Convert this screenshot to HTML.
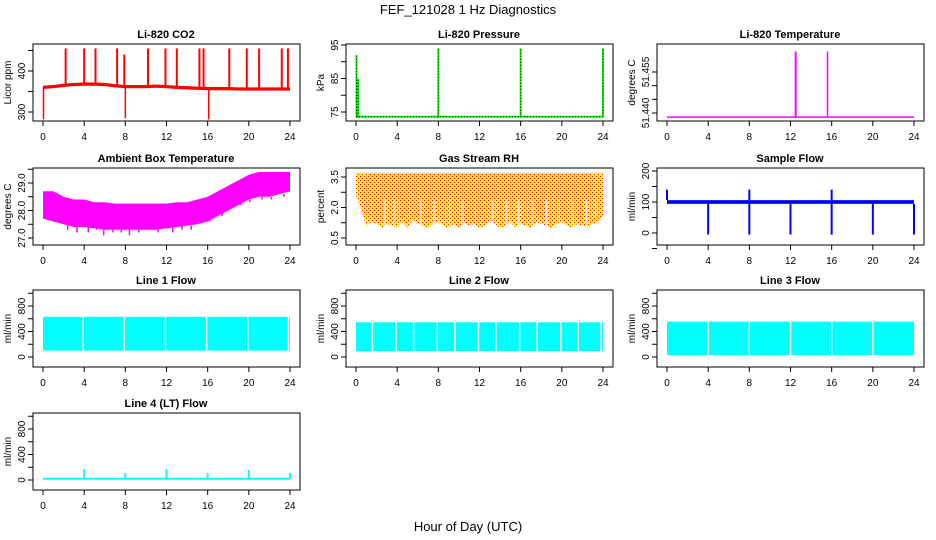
<!DOCTYPE html>
<html><head><meta charset="utf-8">
<style>
html,body{margin:0;padding:0;background:#fff;}
svg{display:block;font-family:"Liberation Sans",sans-serif;}
</style></head>
<body>
<svg id="chart" width="936" height="540" viewBox="0 0 936 540" xmlns="http://www.w3.org/2000/svg">
<defs>
<pattern id="rhdots" width="4" height="4" patternUnits="userSpaceOnUse">
<rect width="4" height="4" fill="#ffff00"/>
<rect x="0" y="0" width="1" height="1" fill="#ff0000"/>
<rect x="2" y="2" width="1" height="1" fill="#ff0000"/>
</pattern>
</defs>
<text x="468" y="14" font-size="13" text-anchor="middle">FEF_121028  1 Hz Diagnostics</text>
<text x="468" y="531" font-size="13" text-anchor="middle">Hour of Day (UTC)</text>
</svg>
<script>
// ---- data ----
const hourTicks = [0,4,8,12,16,20,24];
const hours = [0,1,2,3,4,5,6,7,8,9,10,11,12,13,14,15,16,17,18,19,20,21,22,23,24];

const co2Base = [360,362,365,367,368,368,367,364,362,362,362,363,362,360,359,358,357,357,357,356,356,356,356,356,356];
const co2SpikeHours = [2.2,4.0,5.1,7.2,7.9,10.2,11.9,13.0,15.2,15.6,18.1,19.8,21.0,23.2,23.8];
const co2SpikeValues = [455,455,455,455,440,455,455,455,455,455,455,455,455,455,455];
const co2DipHours = [0.05,8.0,16.1];
const co2DipValues = [282,285,282];

const presBase = 73.6;
const presSpikeHours = [0.05,0.2,8,16,24];
const presSpikeValues = [92,85,94,94,94];

const tempBase = 51.4385;
const tempSpikeHours = [12.5,15.6];
const tempSpikeValues = [51.4625,51.4625];

const ambHi = [28.7,28.7,28.5,28.4,28.4,28.3,28.3,28.25,28.25,28.25,28.25,28.25,28.25,28.3,28.3,28.4,28.5,28.7,28.9,29.1,29.3,29.4,29.4,29.4,29.4];
const ambLo = [27.7,27.6,27.5,27.4,27.4,27.35,27.3,27.3,27.3,27.3,27.3,27.3,27.35,27.4,27.45,27.5,27.6,27.8,28.0,28.2,28.4,28.5,28.5,28.6,28.7];
const ambDipHours = [0.6,1.5,2.4,3.3,4.4,5.2,5.9,6.8,7.6,8.4,9.3,10.1,11.2,12.6,13.5,14.4,15.3,16.2,17.4,18.3,19.2,20.1,21.3,22.2,23.4];
const ambDipValues = [27.6,27.5,27.3,27.2,27.2,27.3,27.1,27.2,27.2,27.1,27.2,27.3,27.2,27.2,27.3,27.3,27.5,27.7,27.9,28.0,28.3,28.3,28.4,28.4,28.5];

const rhTop = 3.7;
const rhLow = [2.6,1.9,1.1,1.3,1.2,1.0,1.2,1.1,1.0,1.3,1.0,1.4,1.2,1.1,1.0,1.2,1.3,1.1,1.0,1.2,1.0,1.3,1.1,1.2,1.0,1.1,1.4,1.2,1.0,1.1,1.3,1.0,1.2,1.1,1.0,1.3,1.2,1.1,1.0,1.2,1.3,1.1,1.0,1.2,1.1,1.0,1.2,1.3,1.6];
const rhGapHours = [1.5,2.8,3.7,5.2,6.3,7.6,9.1,10.4,11.6,13.3,14.6,15.8,17.2,18.5,19.6,21.1,22.4,23.3];

const flowBandLo = 94, flowBandHi = 106;
const flowDropHours = [4,8,12,16,20,24];
const flowSpikeHours = [0,8,16];
const flowSpikeValues = [140,140,140];

const line1Top = 630, line1Bottom = 100;
const line1Gaps = [3.9,7.9,11.9,15.9,19.9,23.85];
const line2Top = 545, line2Bottom = 90;
const line2Gaps = [1.6,3.9,5.6,7.9,9.6,11.9,13.6,15.9,17.6,19.9,21.6,23.8];
const line3Top = 555, line3Bottom = 30;
const line3Gaps = [4.0,8.0,12.0,16.0,20.0];
const line4Base = 20;
const line4SpikeHours = [4,8,12,16,20,24];
const line4SpikeValues = [170,110,170,110,160,110];

// ---- layout ----
const svg = document.getElementById('chart');
const NS = 'http://www.w3.org/2000/svg';
const colX0 = [43,356,667];
const rowTop = [44,168,290,413];
const boxH = 77;
function el(tag, attrs, name, parent){
  const e = document.createElementNS(NS, tag);
  for (const k in attrs) e.setAttribute(k, attrs[k]);
  
  
  (parent||svg).appendChild(e);
  return e;
}
function panel(col,row,title,ylab,v1,p1,v2,p2,ticks,labels,name){
  const x0 = colX0[col], top = rowTop[row], bot = top+boxH;
  const g = el('g',{},name);
  const xs = h => x0 + h*(247/24);
  const ys = v => p1 + (v-v1)*(p2-p1)/(v2-v1);
  el('rect',{x:x0-10,y:top,width:267,height:boxH,fill:'none',stroke:'#000','stroke-width':1},'plot-box',g);
  const t = el('text',{x:x0+123,y:top-6,'font-size':11,'font-weight':'bold','text-anchor':'middle'},'panel-title',g);
  t.textContent = title;
  hourTicks.forEach(h=>{
    el('line',{x1:xs(h),x2:xs(h),y1:bot,y2:bot+5,stroke:'#000'},'x-tick',g);
    const tl = el('text',{x:xs(h),y:bot+19,'font-size':10,'text-anchor':'middle'},'x-tick-label',g);
    tl.textContent = h;
  });
  ticks.forEach(v=>{
    el('line',{x1:x0-15,x2:x0-10,y1:ys(v),y2:ys(v),stroke:'#000'},'y-tick',g);
  });
  labels.forEach(v=>{
    const tl = el('text',{x:0,y:0,'font-size':10,'text-anchor':'middle',transform:`translate(${x0-18},${ys(+v)}) rotate(-90)`},'y-tick-label',g);
    tl.textContent = v;
  });
  const yl = el('text',{x:0,y:0,'font-size':10,'text-anchor':'middle',transform:`translate(${x0-32},${top+boxH/2}) rotate(-90)`},'y-axis-title',g);
  yl.textContent = ylab;
  return {g,xs,ys};
}
function vline(p,h,v1,v2,color,w,name,dash){
  const a = {x1:p.xs(h),x2:p.xs(h),y1:p.ys(v1),y2:p.ys(v2),stroke:color,'stroke-width':w};
  if (dash) a['stroke-dasharray'] = dash;
  el('line',a,name,p.g);
}
function band(p,hs,lo,hi,fill,name){
  let pts=[];
  hs.forEach((h,i)=>pts.push(p.xs(h)+','+p.ys(hi[i])));
  for(let i=hs.length-1;i>=0;i--) pts.push(p.xs(hs[i])+','+p.ys(lo[i]));
  el('polygon',{points:pts.join(' '),fill:fill},name,p.g);
}

// CO2
let p = panel(0,0,'Li-820 CO2','Licor ppm',300,112,400,71,[300,350,400,450],[300,400],'panel-co2');
band(p,hours,co2Base.map(v=>v-4),co2Base.map(v=>v+4),'#ff0000','co2-band');
co2SpikeHours.forEach((h,i)=>vline(p,h,co2Base[Math.round(h)],co2SpikeValues[i],'#ff0000',2,'co2-spike'));
co2DipHours.forEach((h,i)=>vline(p,h,co2Base[Math.round(h)],co2DipValues[i],'#ff0000',1.5,'co2-dip'));

// Pressure
p = panel(1,0,'Li-820 Pressure','kPa',75,112,95,45,[75,80,85,90,95],[75,85,95],'panel-pressure');
el('line',{x1:p.xs(0),x2:p.xs(24),y1:p.ys(presBase),y2:p.ys(presBase),stroke:'#00ff00','stroke-width':2},'pressure-line',p.g);
el('line',{x1:p.xs(0),x2:p.xs(24),y1:p.ys(presBase),y2:p.ys(presBase),stroke:'#000','stroke-width':1,'stroke-dasharray':'1,2'},'pressure-dots',p.g);
presSpikeHours.forEach((h,i)=>{vline(p,h,presBase,presSpikeValues[i],'#00ff00',2,'pressure-spike');vline(p,h,presBase,presSpikeValues[i],'#000',1,'pressure-spike-dots','1,2');});

// Temperature
p = panel(2,0,'Li-820 Temperature','degrees C',51.440,113,51.455,72,[51.440,51.445,51.450,51.455],['51.440','51.455'],'panel-li820-temp');
el('line',{x1:p.xs(0),x2:p.xs(24),y1:p.ys(tempBase),y2:p.ys(tempBase),stroke:'#ff00ff','stroke-width':1.5},'temp-line',p.g);
tempSpikeHours.forEach((h,i)=>vline(p,h,tempBase,tempSpikeValues[i],'#ff00ff',i==0?2:1.5,'temp-spike'));

// Ambient
p = panel(0,1,'Ambient Box Temperature','degrees C',27,238,29,183,[27,27.5,28,28.5,29,29.5],['27.0','28.0','29.0'],'panel-ambient');
band(p,hours,ambLo,ambHi,'#ff00ff','ambient-band');
ambDipHours.forEach((h,i)=>vline(p,h,ambLo[Math.round(h)],ambDipValues[i],'#ff00ff',1.5,'ambient-dip'));

// RH
p = panel(1,1,'Gas Stream RH','percent',0.5,238,3.5,177,[0.5,1.25,2,2.75,3.5],['0.5','2.0','3.5'],'panel-rh');
const rhH = rhLow.map((v,i)=>i*0.5);
band(p,rhH,rhLow,rhLow.map(()=>rhTop),'url(#rhdots)','rh-band');
rhGapHours.forEach(h=>vline(p,h,1.0,2.4,'#ffffff',1,'rh-gap'));

// Sample flow
p = panel(2,1,'Sample Flow','ml/min',0,233,100,202,[-50,0,50,100,150,200],[0,100,200],'panel-sample-flow');
el('rect',{x:p.xs(0),y:p.ys(flowBandHi),width:p.xs(24)-p.xs(0),height:p.ys(flowBandLo)-p.ys(flowBandHi),fill:'#0000ff'},'sample-flow-band',p.g);
flowDropHours.forEach(h=>vline(p,h,flowBandLo,-5,'#0000ff',2,'sample-flow-drop'));
flowSpikeHours.forEach((h,i)=>vline(p,h,flowBandHi,flowSpikeValues[i],'#0000ff',2,'sample-flow-spike'));

// Line flows
const flowTicks=[0,200,400,600,800,1000], flowLabels=[0,400,800];
function linePanel(col,row,title,top,bottom,gaps,name){
  const q = panel(col,row,title,'ml/min',0,row==2?357:480,800,row==2?306:429,flowTicks,flowLabels,name);
  el('rect',{x:q.xs(0),y:q.ys(top),width:q.xs(24)-q.xs(0),height:q.ys(bottom)-q.ys(top),fill:'#00ffff'},'flow-band',q.g);
  gaps.forEach(h=>vline(q,h,bottom,top+10,'#ffffff',1.5,'flow-gap'));
  return q;
}
linePanel(0,2,'Line 1 Flow',line1Top,line1Bottom,line1Gaps,'panel-line1');
linePanel(1,2,'Line 2 Flow',line2Top,line2Bottom,line2Gaps,'panel-line2');
linePanel(2,2,'Line 3 Flow',line3Top,line3Bottom,line3Gaps,'panel-line3');
p = panel(0,3,'Line 4 (LT) Flow','ml/min',0,480,800,429,flowTicks,flowLabels,'panel-line4');
el('rect',{x:p.xs(0),y:p.ys(line4Base+15),width:p.xs(24)-p.xs(0),height:p.ys(line4Base-15)-p.ys(line4Base+15),fill:'#00ffff'},'line4-band',p.g);
line4SpikeHours.forEach((h,i)=>vline(p,h,line4Base,line4SpikeValues[i],'#00ffff',2,'line4-spike'));
</script>
</body></html>
